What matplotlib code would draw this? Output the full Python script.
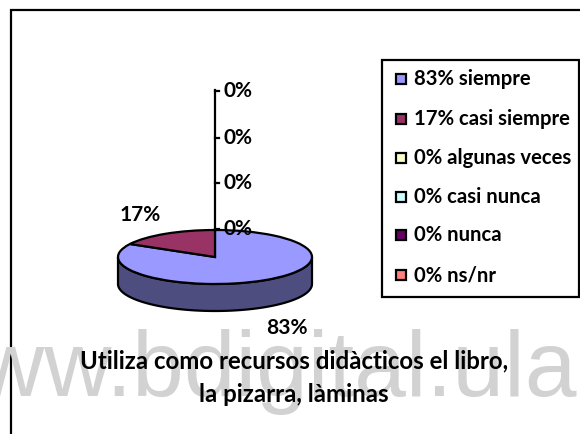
import numpy as np
import matplotlib
matplotlib.use('Agg')
import matplotlib.pyplot as plt
from matplotlib.patches import Wedge, Rectangle, Polygon
from matplotlib.transforms import Affine2D

# ==========================
# Data
# ==========================
labels = ['siempre', 'casi siempre', 'algunas veces', 'casi nunca', 'nunca', 'ns/nr']
values = [83, 17, 0, 0, 0, 0]
colors = ['#9999FF', '#993366', '#FFFFCC', '#CCFFFF', '#660066', '#FF8080']
side_color = '#4D4D80'
title_lines = ['Utiliza como recursos didàcticos el libro,', 'la pizarra, làminas']
watermark = 'www.bdigital.ula'

W, H = 580, 434
FONT = 'Lato'
LW = 1.6

fig = plt.figure(figsize=(W / 100, H / 100), dpi=100)
ax = fig.add_axes([0, 0, 1, 1])
ax.set_xlim(0, W)
ax.set_ylim(H, 0)  # pixel coordinates, y down
ax.axis('off')

# outer frame, only top and left are visible
ax.plot([11, 11, W], [H, 10, 10], color='black', lw=LW, zorder=1, solid_joinstyle='miter')

# ==========================
# Pie
# ==========================
cx, cy, rx, ry, depth = 215, 257, 97, 27, 27

# side wall first
t = np.linspace(0, np.pi, 200)
top = np.column_stack([cx + rx * np.cos(t), cy + ry * np.sin(t)])
bottom = np.column_stack([cx + rx * np.cos(t[::-1]), cy + depth + ry * np.sin(t[::-1])])
ax.add_patch(Polygon(np.vstack([top, bottom]), closed=True, fc=side_color, ec='black', lw=LW, zorder=2))

# slices run clockwise from the top; y axis is flipped so angles grow clockwise on screen
pie_tf = Affine2D().scale(rx, ry).translate(cx, cy) + ax.transData
start = -90
for val, col in zip(values, colors):
    if val == 0:
        continue
    sweep = 360 * val / sum(values)
    ax.add_patch(Wedge((0, 0), 1, start, start + sweep, fc=col, ec='black', lw=LW,
                       transform=pie_tf, zorder=3))
    start += sweep

# leader axis with the zero labels
ax.plot([215, 215], [90, 231], color='black', lw=LW, zorder=4)
zero_y = [91, 138, 183, 229]
for y in zero_y:
    ax.plot([215, 219], [y, y], color='black', lw=LW, zorder=4)
    ax.text(224, y, '0%', family=FONT, weight='bold', fontsize=15, va='center', ha='left', zorder=5)

ax.text(140, 215, '17%', family=FONT, weight='bold', fontsize=15, va='center', ha='center', zorder=5)
ax.text(287, 328, '83%', family=FONT, weight='bold', fontsize=15, va='center', ha='center', zorder=7)

# ==========================
# Legend
# ==========================
ax.add_patch(Rectangle((382, 60), 197, 237, fc='white', ec='black', lw=LW, zorder=2))
legend_y = [79, 119, 158, 197, 235, 275]
for val, lab, col, y in zip(values, labels, colors, legend_y):
    ax.add_patch(Rectangle((396, y - 5), 10, 10, fc=col, ec='black', lw=LW, zorder=3))
    ax.text(414, y, f'{val}% {lab}', family=FONT, weight='bold', fontsize=14.6, va='center', ha='left', zorder=5)

# ==========================
# Watermark and title
# ==========================
ax.text(577, 372, watermark, family='Liberation Sans', fontsize=67, color='#D2D2D2',
        va='center', ha='right', zorder=6, clip_on=True)
ax.text(294, 361, title_lines[0], family=FONT, weight='bold', fontsize=17.3, va='center', ha='center', zorder=7)
ax.text(294, 394, title_lines[1], family=FONT, weight='bold', fontsize=17.3, va='center', ha='center', zorder=7)

fig.savefig('out.png', dpi=100)
